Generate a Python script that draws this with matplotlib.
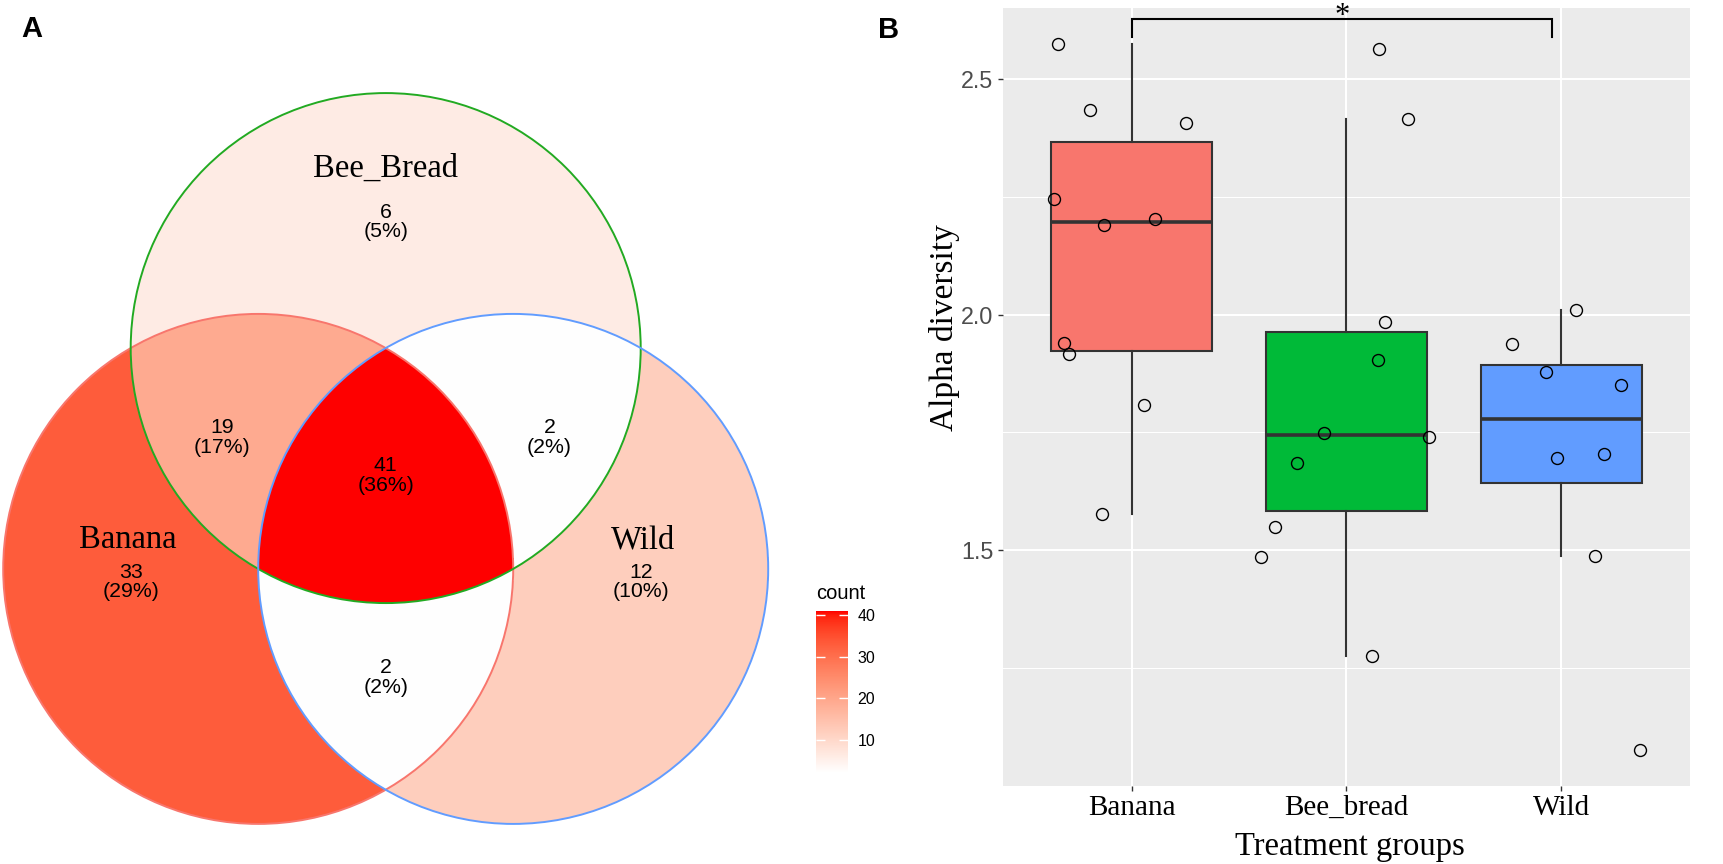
import numpy as np
import matplotlib
matplotlib.use('Agg')
import matplotlib.pyplot as plt
from matplotlib.colors import ListedColormap, Normalize
from matplotlib.patches import Circle
from matplotlib.cm import ScalarMappable

plt.rcParams['font.family'] = ['Liberation Sans', 'DejaVu Sans']
SERIF = ['Liberation Serif', 'DejaVu Serif']

# ---- panel A: Venn diagram data ----
set_names = ['Banana', 'Bee_Bread', 'Wild']
# membership of each region in (Banana, Bee_Bread, Wild)
region_keys = [(1, 0, 0), (0, 1, 0), (0, 0, 1), (1, 1, 0), (0, 1, 1), (1, 0, 1), (1, 1, 1)]
region_counts = [33, 6, 12, 19, 2, 2, 41]
region_pcts = [29, 5, 10, 17, 2, 2, 36]
cbar_ticks = [10, 20, 30, 40]

# ---- panel B: alpha diversity data ----
groups = ['Banana', 'Bee_bread', 'Wild']
banana_vals = [2.574, 2.434, 2.407, 2.246, 2.190, 2.202, 1.940, 1.916, 1.809, 1.577]
banana_jit = [-0.343, -0.193, 0.254, -0.364, -0.131, 0.109, -0.316, -0.291, 0.058, -0.138]
beebread_vals = [2.565, 2.415, 1.984, 1.904, 1.748, 1.685, 1.548, 1.486, 1.276, 1.740]
beebread_jit = [0.153, 0.288, 0.179, 0.148, -0.107, -0.232, -0.334, -0.397, 0.120, 0.383]
wild_vals = [2.010, 1.938, 1.878, 1.851, 1.695, 1.705, 1.488, 1.075]
wild_jit = [0.070, -0.229, -0.072, 0.280, -0.020, 0.199, 0.157, 0.368]
sig_x = (1.0, 2.957)
sig_y = 2.627
sig_label = '*'

box_colors = ['#F8766D', '#00BA38', '#619CFF']
edge_colors = ['#F8766D', '#22AA22', '#619CFF']


# white -> red gradient interpolated in CIE Lab, like ggplot's scale_fill_gradient
M = np.array([[0.4124, 0.3576, 0.1805],
              [0.2126, 0.7152, 0.0722],
              [0.0193, 0.1192, 0.9505]])
WP = np.array([0.95047, 1.0, 1.08883])


def srgb_to_lab(rgb):
    rgb = np.asarray(rgb, float)
    lin = np.where(rgb <= 0.04045, rgb / 12.92, ((rgb + 0.055) / 1.055) ** 2.4)
    xyz = (M @ lin) / WP
    f = np.where(xyz > 0.008856, np.cbrt(xyz), 7.787 * xyz + 16 / 116)
    return np.array([116 * f[1] - 16, 500 * (f[0] - f[1]), 200 * (f[1] - f[2])])


def lab_to_srgb(lab):
    L, a, b = lab[:, 0], lab[:, 1], lab[:, 2]
    fy = (L + 16) / 116
    f = np.stack([fy + a / 500, fy, fy - b / 200], axis=1)
    xyz = np.where(f ** 3 > 0.008856, f ** 3, (f - 16 / 116) / 7.787) * WP
    lin = np.clip(xyz @ np.linalg.inv(M).T, 0, 1)
    return np.where(lin <= 0.0031308, 12.92 * lin, 1.055 * lin ** (1 / 2.4) - 0.055)


lab0 = srgb_to_lab([1, 1, 1])
lab1 = srgb_to_lab([1, 0, 0])
t = np.linspace(0, 1, 256)[:, None]
cmap = ListedColormap(np.clip(lab_to_srgb(lab0 + t * (lab1 - lab0)), 0, 1))
cmap.set_bad((1, 1, 1, 0))
norm = Normalize(min(region_counts), max(region_counts))

fig = plt.figure(figsize=(17.24, 8.64), dpi=100)
W, H = 1724, 864

# ---------------- panel A ----------------
PX = 255.0           # pixels per circle radius
cx0, cy0 = 385.7, 495.3
ax_v = fig.add_axes([0, 0, 2 * cx0 / W, 1])
ax_v.set_xlim(-cx0 / PX, cx0 / PX)
ax_v.set_ylim(-(H - cy0) / PX, cy0 / PX)
ax_v.axis('off')

h = np.sqrt(3) / 2
centers = [(-0.5, -h / 3), (0.0, 2 * h / 3), (0.5, -h / 3)]

xs = np.linspace(-1.55, 1.55, 1700)
ys = np.linspace(-1.35, 1.62, 1630)
X, Y = np.meshgrid(xs, ys)
inside = [((X - cx) ** 2 + (Y - cy) ** 2) <= 1.0 for cx, cy in centers]
Z = np.full(X.shape, np.nan)
for key, cnt in zip(region_keys, region_counts):
    m = (inside[0] == bool(key[0])) & (inside[1] == bool(key[1])) & (inside[2] == bool(key[2]))
    Z[m] = cnt
ax_v.imshow(Z, origin='lower', extent=[xs[0], xs[-1], ys[0], ys[-1]],
            cmap=cmap, norm=norm, interpolation='nearest', aspect='auto', zorder=1)

for (cx, cy), ec in zip(centers, edge_colors):
    ax_v.add_patch(Circle((cx, cy), 1.0, fill=False, ec=ec, lw=1.4, zorder=3))

# label positions (layout) per region
count_pos = {(1, 0, 0): (-1.0, -0.34), (0, 1, 0): (0.0, 1.072), (0, 0, 1): (1.0, -0.34),
             (1, 1, 0): (-0.642, 0.226), (0, 1, 1): (0.642, 0.226),
             (1, 0, 1): (0.0, -0.715), (1, 1, 1): (0.0, 0.078)}
for key, cnt, pct in zip(region_keys, region_counts, region_pcts):
    x, y = count_pos[key]
    ax_v.text(x, y, f'{cnt}\n({pct}%)', ha='center', va='center', fontsize=15.3,
              linespacing=1.05, color='black', zorder=4)

name_pos = [(-1.01, -0.175), (0.0, 1.28), (1.01, -0.175)]
for (x, y), name in zip(name_pos, set_names):
    ax_v.text(x, y, name, ha='center', va='center', fontsize=23.5, family=SERIF, zorder=4)

# colour bar
cax = fig.add_axes([816 / W, (H - 773) / H, 32 / W, 162 / H])
sm = ScalarMappable(norm=norm, cmap=cmap)
cb = fig.colorbar(sm, cax=cax, ticks=cbar_ticks)
cb.outline.set_visible(False)
cax.tick_params(direction='in', color='white', length=6.5, width=1.0, left=True, right=True,
                labelleft=False, labelright=True, labelsize=11.5, labelcolor='black', pad=7)
fig.text(816 / W, 1 - 599 / H, 'count', fontsize=14.5, va='baseline', ha='left')

fig.text(32 / W, 1 - 29 / H, 'A', fontsize=21, fontweight='bold', ha='center', va='center')

# ---------------- panel B ----------------
ax = fig.add_axes([1003 / W, (H - 786) / H, 687 / W, 778 / H])
ax.set_facecolor('#EBEBEB')
for s in ax.spines.values():
    s.set_visible(False)
ax.set_axisbelow(True)

data = [banana_vals, beebread_vals, wild_vals]
jits = [banana_jit, beebread_jit, wild_jit]
pos = np.arange(1, len(groups) + 1)

bp = ax.boxplot(data, positions=pos, widths=0.75, patch_artist=True, showfliers=False,
                showcaps=False, whis=1.5,
                boxprops=dict(edgecolor='#333333', linewidth=1.5),
                whiskerprops=dict(color='#333333', linewidth=1.5),
                medianprops=dict(color='#333333', linewidth=2.6))
for patch, col in zip(bp['boxes'], box_colors):
    patch.set_facecolor(col)

for p, vals, jit in zip(pos, data, jits):
    ax.plot(p + np.array(jit), vals, 'o', ms=8.6, mfc='none', mec='black', mew=1.0, zorder=4)

# significance bracket
leg = 0.037
ax.plot([sig_x[0], sig_x[0], sig_x[1], sig_x[1]],
        [sig_y - leg, sig_y, sig_y, sig_y - leg], color='black', lw=1.5,
        clip_on=False, zorder=5, solid_joinstyle='miter')
ax.text((sig_x[0] + sig_x[1]) / 2, 2.617, sig_label, ha='center', va='baseline',
        fontsize=22, family=SERIF, clip_on=False)

ax.set_xlim(0.4, 3.6)
ax.set_ylim(0.999, 2.651)
ax.set_xticks(pos)
ax.set_xticklabels(groups, fontsize=21, family=SERIF, color='black')
ax.set_yticks([1.5, 2.0, 2.5])
ax.set_yticklabels(['1.5', '2.0', '2.5'], fontsize=16.8, color='#4D4D4D')
ax.set_yticks([1.25, 1.75, 2.25], minor=True)
ax.tick_params(axis='both', which='major', length=3.3, width=1.0, color='#333333')
ax.tick_params(axis='x', pad=3.2)
ax.tick_params(axis='y', pad=3.6)
ax.tick_params(axis='y', which='minor', length=0)
ax.grid(which='major', color='white', lw=1.5)
ax.grid(which='minor', axis='y', color='white', lw=0.75)

fig.text(945 / W, 1 - 328 / H, 'Alpha diversity', rotation=90, ha='center', va='center',
         fontsize=24, family=SERIF)
fig.text(1350 / W, 1 - 855 / H, 'Treatment groups', ha='center', va='baseline',
         fontsize=23.5, family=SERIF)
fig.text(889 / W, 1 - 30 / H, 'B', fontsize=21, fontweight='bold', ha='center', va='center')

fig.savefig('out.png', dpi=100)
